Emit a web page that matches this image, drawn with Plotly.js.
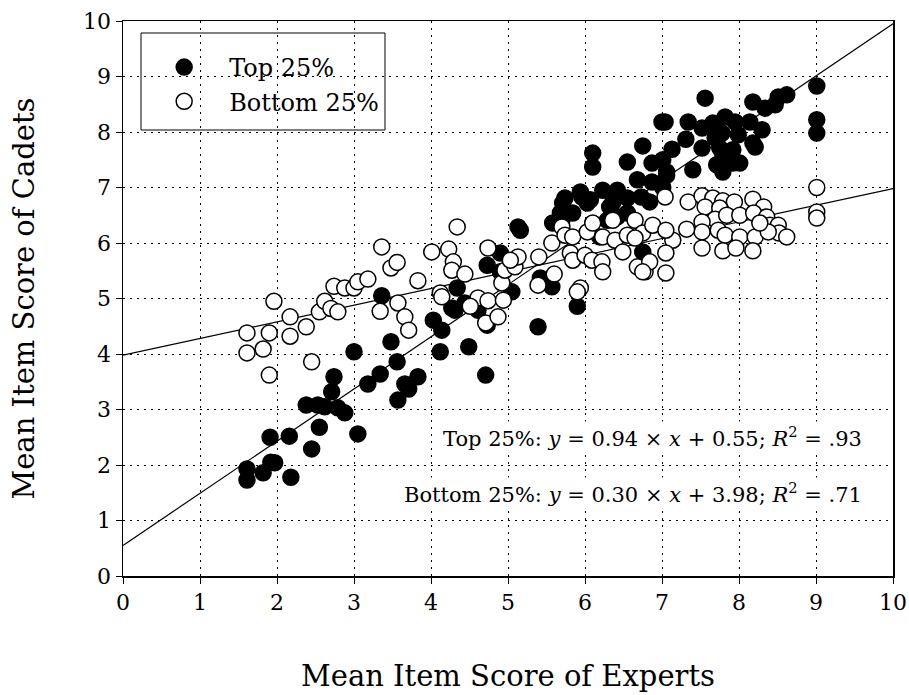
<!DOCTYPE html>
<html>
<head>
<meta charset="utf-8">
<script src="https://cdn.plot.ly/plotly-3.0.1.min.js"></script>
<style>html,body{margin:0;padding:0;background:#fff;}#chart{width:909px;height:695px;}</style>
</head>
<body>
<div id="chart"></div>
<script>
const topX = [1.61,1.61,1.82,1.91,1.92,1.97,2.16,2.18,2.45,2.55,2.38,2.53,2.62,2.79,2.88,3.05,3.57,2.74,2.71,3.00,3.18,3.34,3.36,3.48,3.56,3.66,3.71,3.83,4.34,4.03,4.14,4.12,4.27,4.31,4.44,4.61,4.49,4.71,4.73,4.73,5.05,4.90,5.16,5.13,4.90,5.42,5.57,5.90,5.39,5.71,6.03,5.68,5.84,5.58,6.10,6.10,6.75,6.55,6.87,6.68,6.87,7.00,5.94,5.74,6.07,6.23,6.42,6.36,6.55,6.73,6.84,5.70,6.19,6.75,7.56,7.04,7.34,7.01,7.13,7.31,7.52,7.66,7.82,7.95,8.18,8.34,8.51,8.62,8.47,8.14,8.30,8.18,8.21,7.99,7.92,8.01,7.78,7.69,7.52,7.75,7.79,7.71,7.79,7.92,7.40,7.06,7.06,7.01,6.32,6.42,6.55,6.29,5.96,9.01,9.01,9.01];
const topY = [1.93,1.73,1.86,2.50,2.05,2.04,2.52,1.78,2.29,2.68,3.08,3.08,3.05,3.03,2.94,2.56,3.17,3.59,3.32,4.04,3.46,3.64,5.05,4.22,3.86,3.46,3.37,3.59,5.19,4.61,4.43,4.04,4.83,4.79,4.92,4.79,4.13,3.62,5.60,4.52,5.12,5.48,6.23,6.29,5.82,5.37,5.21,4.86,4.49,6.72,6.72,6.54,6.54,6.36,7.62,7.37,7.75,7.46,7.44,7.14,7.10,8.18,6.92,6.81,6.78,6.95,6.95,6.73,6.81,6.83,6.74,6.41,6.11,5.84,8.61,8.18,8.18,7.50,7.69,7.87,8.07,8.16,8.27,8.18,8.54,8.43,8.63,8.67,8.49,8.18,8.04,7.80,7.73,7.95,7.68,7.44,7.98,7.89,7.71,7.71,7.55,7.41,7.28,7.44,7.32,7.28,7.22,7.00,6.65,6.47,6.54,6.41,6.83,8.83,8.22,7.98];

const botX = [1.61,1.61,1.82,1.90,1.90,1.96,2.17,2.17,2.38,2.45,2.55,2.62,2.70,2.79,2.74,2.88,3.00,3.05,3.18,3.36,3.48,3.56,3.34,3.57,3.66,3.71,3.83,4.34,4.01,4.23,4.29,4.27,4.44,4.12,4.14,4.61,4.51,4.74,4.71,4.87,4.74,4.92,4.94,4.96,5.09,5.13,5.03,5.40,5.39,5.60,5.94,5.90,5.57,5.70,5.74,5.84,5.81,5.84,6.03,6.00,6.09,6.10,6.23,6.22,6.23,6.36,6.39,6.49,6.55,6.65,6.68,6.78,6.75,6.65,6.88,7.14,9.01,9.01,9.01,7.04,7.34,7.52,7.66,7.79,7.94,8.18,8.32,7.56,7.75,7.69,7.84,8.01,8.19,8.36,8.40,8.51,8.52,8.62,7.52,7.52,7.73,7.82,8.01,8.21,8.38,8.27,7.52,7.79,7.96,8.18,7.32,7.05,7.05,7.05,6.84,6.75];
const botY = [4.38,4.02,4.09,4.38,3.62,4.95,4.67,4.32,4.49,3.86,4.76,4.95,4.82,4.76,5.22,5.19,5.19,5.30,5.35,5.93,5.55,5.65,4.77,4.92,4.67,4.43,5.32,6.29,5.84,5.89,5.66,5.51,5.44,5.10,5.03,5.01,4.86,4.96,4.56,4.67,5.91,5.28,4.97,5.51,5.57,5.75,5.69,5.75,5.24,5.44,5.19,5.12,6.00,6.29,6.14,6.11,5.82,5.69,6.20,5.78,5.69,6.36,6.11,5.66,5.48,6.41,6.05,5.84,6.14,6.41,5.57,5.48,6.18,6.09,6.32,6.05,7.00,6.56,6.45,6.83,6.74,6.85,6.81,6.76,6.74,6.79,6.65,6.65,6.63,6.43,6.50,6.50,6.54,6.47,6.32,6.32,6.18,6.11,6.38,6.20,6.23,6.14,6.11,6.11,6.20,6.36,5.91,5.86,5.91,5.86,6.25,6.23,5.82,5.46,5.66,5.48];

const fitTop = {slope: 0.94, intercept: 0.55, r2: '.93'};
const fitBot = {slope: 0.30, intercept: 3.98, r2: '.71'};
const lineRange = [0, 10];

const FONT = 'DejaVu Serif, serif';

function fitLine(f) {
  return {x: lineRange, y: lineRange.map(v => f.slope * v + f.intercept),
    mode: 'lines', line: {color: 'black', width: 1.2}, showlegend: false, hoverinfo: 'skip', type: 'scatter'};
}

const traces = [
  fitLine(fitTop),
  fitLine(fitBot),
  {x: topX, y: topY, mode: 'markers', type: 'scatter', name: 'Top 25%',
   marker: {size: 16, color: 'black', line: {color: 'black', width: 1.5}}},
  {x: botX, y: botY, mode: 'markers', type: 'scatter', name: 'Bottom 25%',
   marker: {size: 16, color: 'white', line: {color: 'black', width: 1.5}}}
];

const fmt = v => v.toFixed(2);
const gridDash = '2px,5px';
const axisCommon = {range: [0, 10], dtick: 1, tick0: 0, showgrid: true, gridcolor: 'black', griddash: gridDash, gridwidth: 1,
    showline: true, mirror: true, linecolor: 'black', linewidth: 1.5, ticks: 'outside', ticklen: 6, tickcolor: 'black',
    zeroline: false, tickfont: {size: 22}};
const layout = {
  width: 909, height: 695,
  margin: {l: 123, r: 16, t: 21, b: 119},
  paper_bgcolor: 'white', plot_bgcolor: 'white',
  font: {family: FONT, color: 'black', size: 21},
  xaxis: Object.assign({}, axisCommon, {title: {text: 'Mean Item Score of Experts', font: {size: 29}, standoff: 52}}),
  yaxis: Object.assign({}, axisCommon, {title: {text: 'Mean Item Score of Cadets', font: {size: 29}, standoff: 40}}),
  showlegend: true,
  legend: {x: 0.021, y: (576 - 45) / 555, xanchor: 'left', yanchor: 'top', bgcolor: 'rgba(0,0,0,0)', borderwidth: 0,
    font: {size: 24}, itemwidth: 80},
  shapes: [
    {type: 'rect', xref: 'paper', yref: 'paper', layer: 'between',
     x0: (141 - 123) / 770, x1: (385 - 123) / 770, y0: (576 - 130) / 555, y1: (576 - 33) / 555,
     fillcolor: 'white', line: {color: 'black', width: 1}}
  ],
  annotations: [
    {xref: 'paper', yref: 'paper', x: 0.962, y: (576 - 437) / 555, xanchor: 'right', yanchor: 'middle', showarrow: false,
     bgcolor: 'white', font: {size: 21},
     text: 'Top 25%: <i>y</i> = ' + fmt(fitTop.slope) + ' × <i>x</i> + ' + fmt(fitTop.intercept) + '; <i>R</i><sup>2</sup> = ' + fitTop.r2},
    {xref: 'paper', yref: 'paper', x: 0.962, y: (576 - 493) / 555, xanchor: 'right', yanchor: 'middle', showarrow: false,
     bgcolor: 'white', font: {size: 21},
     text: 'Bottom 25%: <i>y</i> = ' + fmt(fitBot.slope) + ' × <i>x</i> + ' + fmt(fitBot.intercept) + '; <i>R</i><sup>2</sup> = ' + fitBot.r2}
  ]
};

Plotly.newPlot('chart', traces, layout, {displayModeBar: false, staticPlot: true});
</script>
</body>
</html>
